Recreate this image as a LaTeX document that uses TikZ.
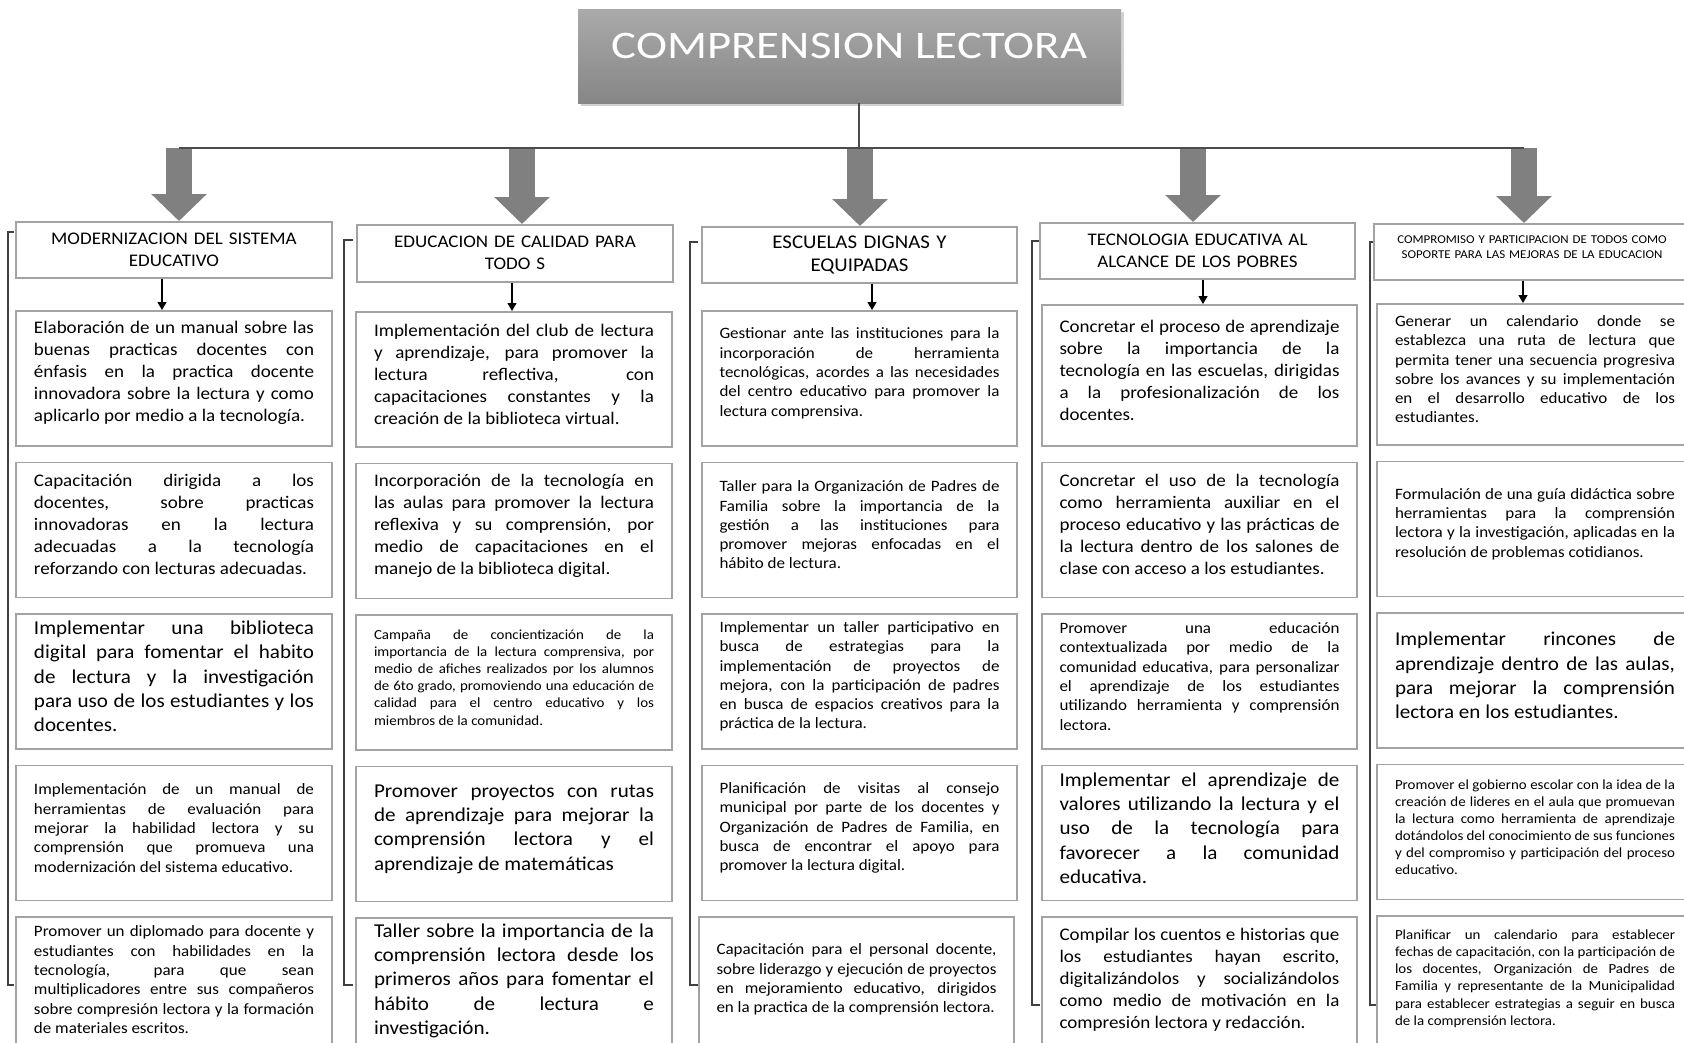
\documentclass[tikz,border=0pt]{standalone}
\usepackage{fontspec}
\setmainfont{Carlito}[FakeStretch=1.075]
\newfontfamily\titulofont{Carlito}[FakeStretch=1.2]
\usetikzlibrary{positioning,arrows.meta,shadows}

\definecolor{grisflecha}{HTML}{808080}
\definecolor{grisborde}{HTML}{A3A3A3}
\definecolor{grisclaro}{HTML}{AAAAAA}
\definecolor{grisoscuro}{HTML}{868686}

\hyphenpenalty=10000
\tolerance=1000
\hbadness=10000

% tamanos de letra de las cajas
\newcommand{\letraG}{\fontsize{19.6pt}{24.3pt}\selectfont}
\newcommand{\letraM}{\fontsize{17.7pt}{22pt}\selectfont}
\newcommand{\letraE}{\fontsize{19.4pt}{23.3pt}\selectfont}
\newcommand{\letraC}{\fontsize{15.8pt}{19.3pt}\selectfont}
\newcommand{\letraP}{\fontsize{13.9pt}{17.1pt}\selectfont}
\newcommand{\letraT}{\fontsize{12pt}{15.3pt}\selectfont}
% espacio bajo el texto
\newcommand{\finbloque}[1]{\par\kern#1}

\begin{document}
\begin{tikzpicture}[x=1pt,y=-1pt,node distance=15pt,
   titulo/.style={minimum width=543pt,minimum height=94pt,inner sep=0pt,
      top color=grisclaro,bottom color=grisoscuro,
      drop shadow={shadow xshift=3pt,shadow yshift=-3pt,opacity=.35},
      text=white,font=\titulofont\fontsize{39pt}{40pt}\selectfont,
      text height=25pt,text depth=20pt},
   cabecera/.style={draw=grisborde,line width=1.6pt,fill=white,inner sep=0pt,
      minimum width=316pt,minimum height=56pt,text width=280pt,align=center,
      anchor=north},
   caja/.style={draw=grisborde,line width=1.6pt,fill=white,inner sep=0pt,
      minimum width=316pt,minimum height=135pt,text width=280pt,align=justify,
      execute at end node={\finbloque{10pt}}},
   flechona/.style={grisflecha,line width=26pt,-{Triangle[width=54pt,length=27pt]}},
   flechita/.style={black,line width=1.3pt,-{Triangle[width=9pt,length=8pt]}},
   linea/.style={black!70,line width=1.2pt},
   corchete/.style={black!75,line width=1.2pt}]

\path[use as bounding box,fill=white] (0,0) rectangle (1684,1042);

% titulo
\node[titulo] (tit) at (849.5,56) {COMPRENSION LECTORA};

\coordinate (bus) at (859,148);
\coordinate (ba1) at (179,148);
\coordinate (ba2) at (522,148);
\coordinate (ba3) at (860,148);
\coordinate (ba4) at (1193,148);
\coordinate (ba5) at (1524,148);

% corchetes de cada columna
\draw[corchete] (14,232) -| (8,985) -- (14,985);
\draw[corchete] (353,240) -| (344,985) -- (353,985);
\draw[corchete] (698,242) -| (690,985) -- (698,985);
\draw[corchete] (1040,241) -| (1032,1005) -- (1040,1005);
\draw[corchete] (1376,242) -| (1370,1005) -- (1376,1005);

% encabezados
\node[cabecera,font=\letraM] (h1) at (174,221) {MODERNIZACION DEL SISTEMA\\ EDUCATIVO};
\node[cabecera,font=\letraM,minimum height=57pt] (h2) at (515,224) {EDUCACION DE CALIDAD PARA\\ TODO S};
\node[cabecera,font=\letraE,minimum width=315pt] (h3) at (859.5,226) {ESCUELAS DIGNAS Y\\ EQUIPADAS};
\node[cabecera,font=\letraM,minimum width=315pt] (h4) at (1197.5,222) {TECNOLOGIA EDUCATIVA AL\\ ALCANCE DE LOS POBRES};
\node[cabecera,font=\letraT] (h5) at (1532,223) {COMPROMISO Y PARTICIPACION DE TODOS COMO\\ SOPORTE PARA LAS MEJORAS DE LA EDUCACION\finbloque{10pt}};

% columna 1
\node[caja,anchor=north,font=\letraM] (b11) at (174,310) {Elaboración de un manual sobre las\linebreak buenas practicas docentes con\linebreak énfasis en la practica docente\linebreak innovadora sobre la lectura y como\linebreak aplicarlo por medio a la tecnología.};
\node[caja,font=\letraM] (b12) [below=of b11] {Capacitación dirigida a los\linebreak docentes, sobre practicas\linebreak innovadoras en la lectura\linebreak adecuadas a la tecnología\linebreak reforzando con lecturas adecuadas.};
\node[caja,font=\letraG] (b13) [below=of b12] {Implementar una biblioteca\linebreak digital para fomentar el habito\linebreak de lectura y la investigación\linebreak para uso de los estudiantes y los\linebreak docentes.};
\node[caja,font=\letraC] (b14) [below=of b13] {Implementación de un manual de\linebreak herramientas de evaluación para\linebreak mejorar la habilidad lectora y su\linebreak comprensión que promueva una\linebreak modernización del sistema educativo.};
\node[caja,font=\letraC] (b15) [below=of b14] {Promover un diplomado para docente y\linebreak estudiantes con habilidades en la\linebreak tecnología, para que sean\linebreak multiplicadores entre sus compañeros\linebreak sobre compresión lectora y la formación\linebreak de materiales escritos.};

% columna 2
\node[caja,anchor=north,font=\letraM] (b21) at (514,311) {Implementación del club de lectura\linebreak y aprendizaje, para promover la\linebreak lectura reflectiva, con\linebreak capacitaciones constantes y la\linebreak creación de la biblioteca virtual.};
\node[caja,font=\letraM] (b22) [below=of b21] {Incorporación de la tecnología en\linebreak las aulas para promover la lectura\linebreak reflexiva y su comprensión, por\linebreak medio de capacitaciones en el\linebreak manejo de la biblioteca digital.};
\node[caja,font=\letraP] (b23) [below=of b22] {Campaña de concientización de la\linebreak importancia de la lectura comprensiva, por\linebreak medio de afiches realizados por los alumnos\linebreak de 6to grado, promoviendo una educación de\linebreak calidad para el centro educativo y los\linebreak miembros de la comunidad.};
\node[caja,font=\letraG] (b24) [below=of b23] {Promover proyectos con rutas\linebreak de aprendizaje para mejorar la\linebreak comprensión lectora y el\linebreak aprendizaje de matemáticas};
\node[caja,font=\letraG] (b25) [below=of b24] {Taller sobre la importancia de la\linebreak comprensión lectora desde los\linebreak primeros años para fomentar el\linebreak hábito de lectura e\linebreak investigación.};

% columna 3
\node[caja,anchor=north,font=\letraC,minimum width=315pt] (b31) at (859.5,310) {Gestionar ante las instituciones para la\linebreak incorporación de herramienta\linebreak tecnológicas, acordes a las necesidades\linebreak del centro educativo para promover la\linebreak lectura comprensiva.};
\node[caja,font=\letraC,minimum width=315pt] (b32) [below=of b31] {Taller para la Organización de Padres de\linebreak Familia sobre la importancia de la\linebreak gestión a las instituciones para\linebreak promover mejoras enfocadas en el\linebreak hábito de lectura.};
\node[caja,font=\letraC,minimum width=315pt] (b33) [below=of b32] {Implementar un taller participativo en\linebreak busca de estrategias para la\linebreak implementación de proyectos de\linebreak mejora, con la participación de padres\linebreak en busca de espacios creativos para la\linebreak práctica de la lectura.};
\node[caja,font=\letraC,minimum width=315pt] (b34) [below=of b33] {Planificación de visitas al consejo\linebreak municipal por parte de los docentes y\linebreak Organización de Padres de Familia, en\linebreak busca de encontrar el apoyo para\linebreak promover la lectura digital.};
\node[caja,font=\letraC,minimum width=315pt,xshift=-3pt] (b35) [below=of b34] {Capacitación para el personal docente,\linebreak sobre liderazgo y ejecución de proyectos\linebreak en mejoramiento educativo, dirigidos\linebreak en la practica de la comprensión lectora.};

% columna 4
\node[caja,anchor=north,font=\letraM,minimum width=315pt,minimum height=141pt] (b41) at (1199.5,304) {Concretar el proceso de aprendizaje\linebreak sobre la importancia de la\linebreak tecnología en las escuelas, dirigidas\linebreak a la profesionalización de los\linebreak docentes.};
\node[caja,font=\letraM,minimum width=315pt] (b42) [below=of b41] {Concretar el uso de la tecnología\linebreak como herramienta auxiliar en el\linebreak proceso educativo y las prácticas de\linebreak la lectura dentro de los salones de\linebreak clase con acceso a los estudiantes.};
\node[caja,font=\letraC,minimum width=315pt] (b43) [below=of b42] {Promover una educación\linebreak contextualizada por medio de la\linebreak comunidad educativa, para personalizar\linebreak el aprendizaje de los estudiantes\linebreak utilizando herramienta y comprensión\linebreak lectora.};
\node[caja,font=\letraG,minimum width=315pt] (b44) [below=of b43] {Implementar el aprendizaje de\linebreak valores utilizando la lectura y el\linebreak uso de la tecnología para\linebreak favorecer a la comunidad\linebreak educativa.};
\node[caja,font=\letraM,minimum width=315pt] (b45) [below=of b44] {Compilar los cuentos e historias que\linebreak los estudiantes hayan escrito,\linebreak digitalizándolos y socializándolos\linebreak como medio de motivación en la\linebreak compresión lectora y redacción.};

% columna 5
\node[caja,anchor=north,font=\letraC,minimum height=141pt] (b51) at (1535,303) {Generar un calendario donde se\linebreak establezca una ruta de lectura que\linebreak permita tener una secuencia progresiva\linebreak sobre los avances y su implementación\linebreak en el desarrollo educativo de los\linebreak estudiantes.};
\node[caja,font=\letraC] (b52) [below=of b51] {Formulación de una guía didáctica sobre\linebreak herramientas para la comprensión\linebreak lectora y la investigación, aplicadas en la\linebreak resolución de problemas cotidianos.};
\node[caja,font=\letraG] (b53) [below=of b52] {Implementar rincones de\linebreak aprendizaje dentro de las aulas,\linebreak para mejorar la comprensión\linebreak lectora en los estudiantes.};
\node[caja,font=\letraP] (b54) [below=of b53] {Promover el gobierno escolar con la idea de la\linebreak creación de lideres en el aula que promuevan\linebreak la lectura como herramienta de aprendizaje\linebreak dotándolos del conocimiento de sus funciones\linebreak y del compromiso y participación del proceso\linebreak educativo.};
\node[caja,font=\letraP] (b55) [below=of b54] {Planificar un calendario para establecer\linebreak fechas de capacitación, con la participación de\linebreak los docentes, Organización de Padres de\linebreak Familia y representante de la Municipalidad\linebreak para establecer estrategias a seguir en busca\linebreak de la comprensión lectora.};

% flechas grandes
\draw[flechona] (ba1) -- (ba1 |- h1.north);
\draw[flechona] (ba2) -- (ba2 |- h2.north);
\draw[flechona] (ba3) -- (ba3 |- h3.north);
\draw[flechona] (ba4) -- (ba4 |- h4.north);
\draw[flechona] (ba5) -- (ba5 |- h5.north);
\draw[linea] (tit.south -| bus) -- (bus);
\draw[linea] (ba1) -- (ba5);

% flechas pequenas
\draw[flechita] ([xshift=-12pt]h1.south) -- ([xshift=-12pt]h1.south |- b11.north);
\draw[flechita] ([xshift=-3pt]h2.south) -- ([xshift=-3pt]h2.south |- b21.north);
\draw[flechita] ([xshift=12.5pt]h3.south) -- ([xshift=12.5pt]h3.south |- b31.north);
\draw[flechita] ([xshift=5.5pt]h4.south) -- ([xshift=5.5pt]h4.south |- b41.north);
\draw[flechita] ([xshift=-9pt]h5.south) -- ([xshift=-9pt]h5.south |- b51.north);
\end{tikzpicture}
\end{document}
